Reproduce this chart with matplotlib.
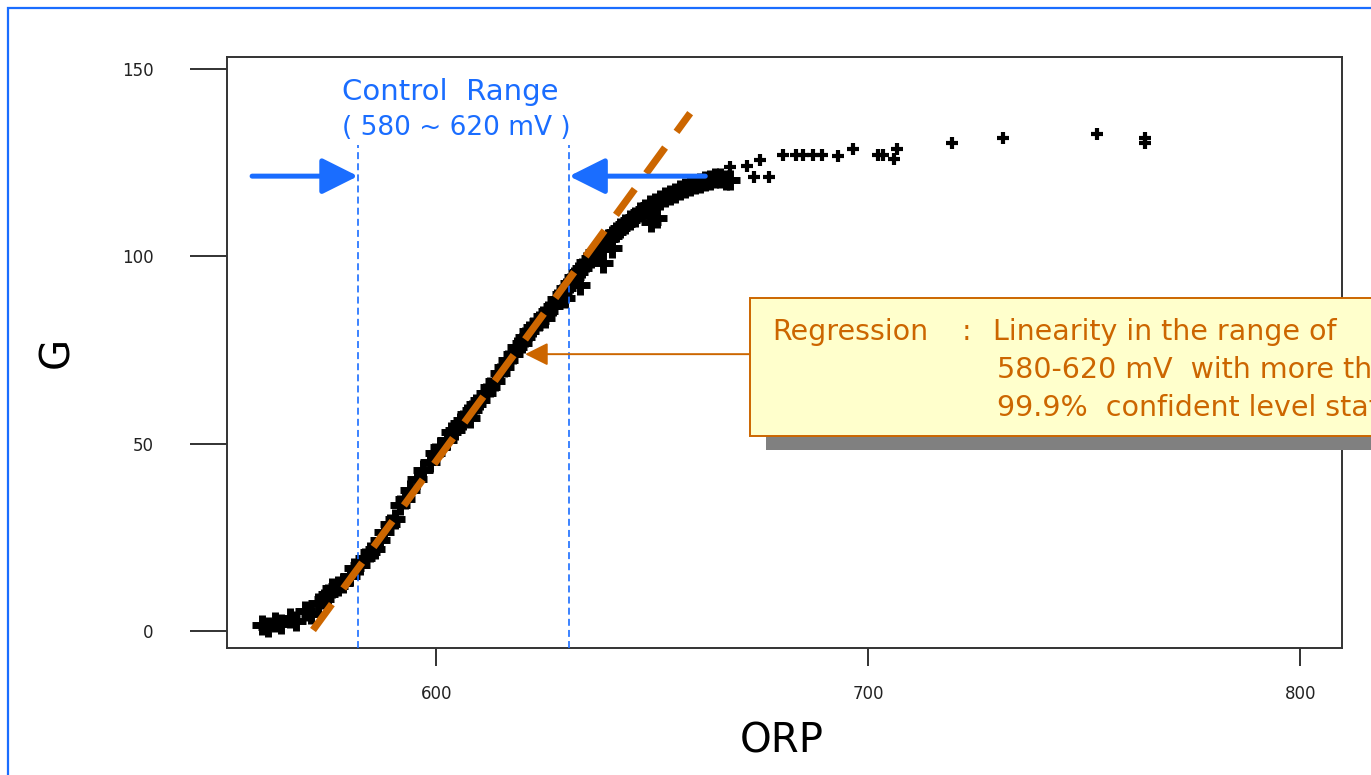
import matplotlib
matplotlib.use('Agg')
import matplotlib.pyplot as plt
import matplotlib.patches as mpatches

# ORP vs G (tramo denso de la curva)
orp = [559.7, 561.0, 562.7, 564.0, 566.2, 567.5, 569.7, 571.0, 572.7, 574.0,
       575.0, 576.0, 577.3, 578.5, 580.1, 581.0, 582.4, 583.5, 584.7, 585.8,
       587.0, 588.0, 589.4, 590.5, 591.7, 592.8, 594.0, 595.5, 597.0, 598.5,
       599.8, 601.0, 602.5, 603.5, 604.4, 605.5, 606.3, 607.2, 608.3, 609.2,
       610.2, 611.5, 612.5, 613.6, 614.8, 615.8, 616.7, 617.8, 618.8, 619.8,
       620.6, 621.5, 622.5, 623.8, 624.8, 626.0, 627.1, 628.0, 629.2, 630.0,
       631.0, 632.0, 632.9, 633.8, 634.7, 635.8, 636.8, 637.8, 638.7, 639.7,
       640.7, 641.6, 642.6, 643.8, 644.9, 646.0, 647.2, 648.3, 649.5, 650.7,
       651.9, 653.0, 654.2, 655.3, 656.5, 657.7, 658.8, 660.0, 661.1, 662.3,
       663.4, 664.5, 665.7, 667.0, 668.1,
       638.7, 640.7, 649.8, 651.2, 625.2, 607.9, 633.3, 629.9]
g = [1.6, 1.0, 2.4, 2.0, 3.5, 2.8, 5.3, 4.5, 7.5, 8.5,
     9.9, 11.5, 12.0, 12.8, 14.7, 16.8, 17.6, 19.5, 21.1, 22.0,
     24.3, 26.5, 28.6, 30.0, 33.6, 35.2, 37.6, 40.5, 43.0, 45.0,
     47.5, 49.0, 51.0, 53.0, 53.6, 55.5, 56.3, 58.0, 59.0, 60.5,
     61.6, 63.5, 65.1, 66.8, 68.9, 70.5, 72.3, 74.0, 75.8, 77.0,
     78.5, 80.0, 81.1, 82.8, 84.1, 85.5, 86.7, 88.5, 89.9, 91.5,
     92.9, 94.5, 95.8, 97.0, 98.5, 99.5, 101.1, 102.0, 103.3, 104.5,
     105.4, 106.5, 107.6, 108.5, 109.7, 110.5, 111.8, 112.5, 113.7, 114.2,
     115.0, 115.8, 116.4, 117.0, 117.7, 118.2, 118.8, 119.2, 119.6, 120.0,
     120.4, 120.9, 120.9, 120.5, 120.4,
     98.2, 102.2, 109.2, 110.2, 83.5, 56.8, 92.3, 88.9]

# puntos sueltos de la parte alta
orp_alto = [668.1, 671.9, 675.0, 673.5, 677.0, 680.3, 683.3, 685.0, 687.3, 689.4,
            693.1, 696.5, 702.3, 703.5, 706.6, 705.9, 719.4, 731.3, 752.9, 764.1, 764.1]
g_alto = [123.9, 124.1, 125.7, 121.2, 121.2, 127.0, 127.0, 127.0, 127.0, 127.0,
          126.8, 128.6, 127.0, 127.0, 128.6, 125.9, 130.2, 131.5, 132.6, 131.5, 130.2]

# recta de regresion y rango de control
reg_orp = [571.5, 658.8]
reg_g = [0.3, 138.2]
rango_control = [581.9, 630.8]

xticks = [600, 700, 800]
yticks = [0, 50, 100, 150]

azul = '#1a6dff'
naranja = '#cc6600'

plt.rcParams['lines.scale_dashes'] = False

fig = plt.figure(figsize=(13.71, 7.75), dpi=100)
ax = fig.add_axes([0.1656, 0.1639, 0.8133, 0.7626])

ax.plot(orp, g, linestyle='none', marker='+', color='black', ms=14, mew=5, zorder=3)
ax.plot(orp_alto, g_alto, linestyle='none', marker='+', color='black', ms=8, mew=3, zorder=3)

ax.set_xlim(551.6, 809.7)
ax.set_ylim(-4.5, 153.2)
ax.set_xticks(xticks)
ax.set_yticks(yticks)
ax.tick_params(axis='y', length=27, width=1.3, pad=26, labelsize=12, colors='#222222')
ax.tick_params(axis='x', length=13, width=1.3, pad=14, labelsize=12, colors='#222222')
for s in ax.spines.values():
    s.set_color('#333333')
    s.set_linewidth(1.4)

ax.set_xlabel('ORP', fontsize=29)
ax.xaxis.label.set_va('center')
ax.xaxis.set_label_coords(0.4978, -0.159)
ax.set_ylabel('G', fontsize=29)
ax.yaxis.label.set_va('center')
ax.yaxis.set_label_coords(-0.1525, 0.5)

# lineas del rango de control
for xc in rango_control:
    ax.plot([xc, xc], [-4.5, 129.7], color=azul, lw=1.2, dashes=(5, 3), zorder=4)

# recta de regresion
ax.plot(reg_orp, reg_g, color=naranja, lw=5.2, dashes=(23, 14), solid_capstyle='butt',
        dash_capstyle='butt', zorder=5)

# flechas azules
ax.annotate('', xy=(rango_control[0], 121.4), xytext=(557.4, 121.4),
            arrowprops=dict(arrowstyle='-|>,head_length=22,head_width=11', mutation_scale=1,
                            color=azul, lw=3.6, shrinkA=0, shrinkB=0), zorder=6)
ax.annotate('', xy=(rango_control[1], 121.4), xytext=(662.3, 121.4),
            arrowprops=dict(arrowstyle='-|>,head_length=22,head_width=11', mutation_scale=1,
                            color=azul, lw=3.6, shrinkA=0, shrinkB=0), zorder=6)

ax.text(603.2, 143.8, 'Control  Range', color=azul, fontsize=21, ha='center', va='center')
ax.text(604.6, 134.2, '( 580 ~ 620 mV )', color=azul, fontsize=19, ha='center', va='center')

# flecha naranja hacia la recta
ax.annotate('', xy=(620.6, 73.9), xytext=(673.0, 73.9),
            arrowprops=dict(arrowstyle='-|>,head_length=14,head_width=7', mutation_scale=1,
                            color=naranja, lw=1.4, shrinkA=0, shrinkB=0), zorder=6)

# cuadro de texto con sombra
sombra = mpatches.Rectangle((766 / 1371, 1 - 450 / 775), 0.5, 138 / 775, transform=fig.transFigure,
                            facecolor='#808080', edgecolor='none', zorder=8)
cuadro = mpatches.Rectangle((750 / 1371, 1 - 436 / 775), 0.5, 138 / 775, transform=fig.transFigure,
                            facecolor='#ffffcc', edgecolor=naranja, lw=1.4, zorder=9)
fig.add_artist(sombra)
fig.add_artist(cuadro)

fig.text(772 / 1371, 1 - 332 / 775, 'Regression', color=naranja, fontsize=20.5,
         ha='left', va='center', zorder=10)
fig.text(962 / 1371, 1 - 332 / 775, ':', color=naranja, fontsize=20.5,
         ha='left', va='center', zorder=10)
fig.text(993 / 1371, 1 - 332 / 775, 'Linearity in the range of', color=naranja, fontsize=20.5,
         ha='left', va='center', zorder=10)
fig.text(997 / 1371, 1 - 370 / 775, '580-620 mV  with more than', color=naranja, fontsize=20.5,
         ha='left', va='center', zorder=10)
fig.text(997 / 1371, 1 - 408 / 775, '99.9%  confident level statistically', color=naranja,
         fontsize=20.5, ha='left', va='center', zorder=10)

# marco azul exterior
marco = mpatches.Rectangle((8 / 1371, -0.1), 1.2, 1.1 - 8 / 775, transform=fig.transFigure,
                           facecolor='none', edgecolor=azul, lw=1.6, zorder=11)
fig.add_artist(marco)

fig.savefig('out.png', dpi=100)
